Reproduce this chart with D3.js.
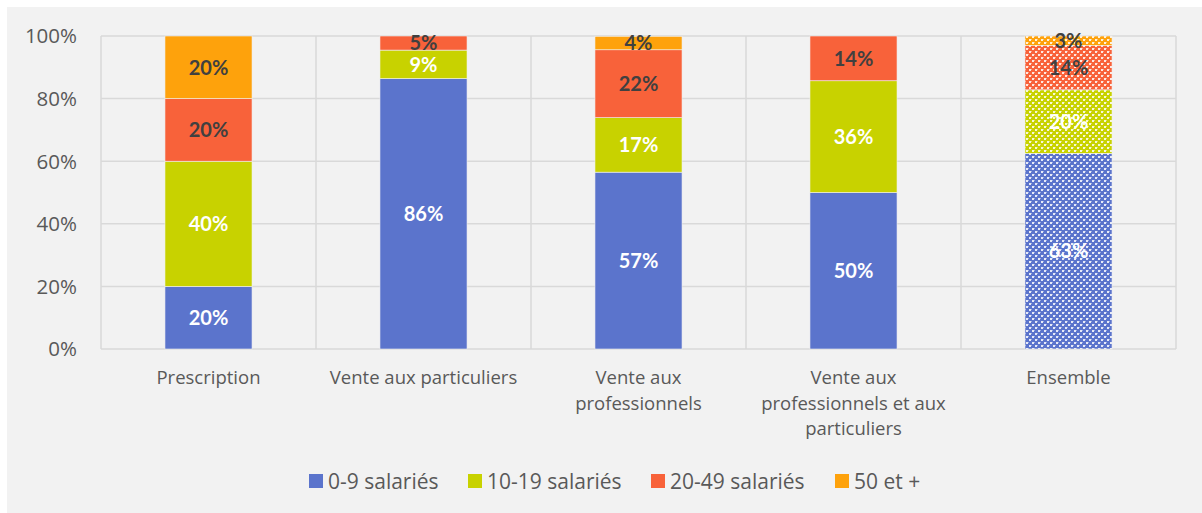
<!DOCTYPE html>
<html>
<head>
<meta charset="utf-8">
<script src="https://cdn.jsdelivr.net/npm/d3@7"></script>
<style>
  html, body { margin: 0; padding: 0; background: #ffffff; }
  svg { display: block; }
</style>
</head>
<body>
<svg id="chart" width="1202" height="513"></svg>
<script>
const categories = ["Prescription", "Vente aux particuliers", "Vente aux professionnels", "Vente aux professionnels et aux particuliers", "Ensemble"];
const categoryLines = [["Prescription"], ["Vente aux particuliers"], ["Vente aux", "professionnels"], ["Vente aux", "professionnels et aux", "particuliers"], ["Ensemble"]];
const seriesNames = ["0-9 salariés", "10-19 salariés", "20-49 salariés", "50 et +"];
const s09 = [20, 86.4, 56.5, 50, 62.5];
const s1019 = [40, 9.1, 17.4, 35.7, 20.3];
const s2049 = [20, 4.5, 21.7, 14.3, 14.1];
const s50 = [20, 0, 4.3, 0, 3.1];
const yTicks = [0, 20, 40, 60, 80, 100];

const colors = ["#5b74cc", "#c8d200", "#f8623a", "#fea20c"];
const labelColors = ["#ffffff", "#ffffff", "#404040", "#404040"];
const series = [s09, s1019, s2049, s50];
const FONT = "'Open Sans', 'Liberation Sans', sans-serif";
const BOLDFONT = "Lato, 'Open Sans', sans-serif";

const svg = d3.select("#chart");
svg.append("rect").attr("x", 7).attr("y", 7).attr("width", 1195).attr("height", 506).attr("fill", "#f2f2f2");

const defs = svg.append("defs");
colors.forEach((c, i) => {
  const p = defs.append("pattern").attr("id", "pat" + i).attr("patternUnits", "userSpaceOnUse")
    .attr("width", 6).attr("height", 6);
  p.append("rect").attr("width", 6).attr("height", 6).attr("fill", c);
  p.append("rect").attr("x", 0).attr("y", 0).attr("width", 2).attr("height", 2).attr("fill", "#ffffff").attr("opacity", 0.85);
  p.append("rect").attr("x", 3).attr("y", 3).attr("width", 2).attr("height", 2).attr("fill", "#ffffff").attr("opacity", 0.85);
  p.append("rect").attr("x", 2).attr("y", 0).attr("width", 1).attr("height", 1).attr("fill", "#ffffff").attr("opacity", 0.4);
  p.append("rect").attr("x", 5).attr("y", 3).attr("width", 1).attr("height", 1).attr("fill", "#ffffff").attr("opacity", 0.4);
});

const x0 = 101, x1 = 1176, yTop = 36, yBot = 349;
const x = d3.scaleBand().domain(categories).range([x0, x1]).paddingInner(0.595).paddingOuter(0.2975);
const y = d3.scaleLinear().domain([0, 100]).range([yBot, yTop]);

// horizontal gridlines
svg.append("g").selectAll("line").data(yTicks).join("line")
  .attr("x1", x0).attr("x2", x1)
  .attr("y1", d => y(d)).attr("y2", d => y(d))
  .attr("stroke", "#d9d9d9").attr("stroke-width", 1.5);

// vertical gridlines (category boundaries)
const step = x.step();
const bounds = d3.range(categories.length + 1).map(i => x0 + i * step);
svg.append("g").selectAll("line").data(bounds).join("line")
  .attr("x1", d => d).attr("x2", d => d)
  .attr("y1", yTop).attr("y2", yBot)
  .attr("stroke", "#d9d9d9").attr("stroke-width", 1.5);

// y axis labels
svg.append("g").selectAll("text").data(yTicks).join("text")
  .attr("x", 77).attr("y", d => y(d)).attr("dy", "0.36em")
  .attr("text-anchor", "end").attr("font-family", FONT).attr("font-size", 20.5)
  .attr("fill", "#595959").text(d => d + "%");

// stacked data
const table = categories.map((c, i) => {
  const o = { cat: c };
  series.forEach((s, k) => o["s" + k] = s[i]);
  return o;
});
const stack = d3.stack().keys(series.map((s, k) => "s" + k))(table);

const barsG = svg.append("g");
stack.forEach((layer, k) => {
  barsG.selectAll(null).data(layer).join("rect")
    .attr("x", d => x(d.data.cat))
    .attr("width", x.bandwidth())
    .attr("y", d => y(d[1]))
    .attr("height", d => y(d[0]) - y(d[1]))
    .attr("fill", (d, i) => d.data.cat === "Ensemble" ? "url(#pat" + k + ")" : colors[k])
    .attr("stroke", d => (d[1] - d[0]) > 0 ? "#f2f2f2" : "none").attr("stroke-width", 0.6);
});

// labels
stack.forEach((layer, k) => {
  barsG.selectAll(null).data(layer.filter(d => d[1] - d[0] > 0)).join("text")
    .attr("x", d => x(d.data.cat) + x.bandwidth() / 2)
    .attr("y", d => (y(d[0]) + y(d[1])) / 2)
    .attr("dy", "0.36em")
    .attr("text-anchor", "middle")
    .attr("font-family", BOLDFONT).attr("font-weight", "bold").attr("font-size", 20)
    .attr("fill", labelColors[k])
    .text(d => Math.round(d[1] - d[0]) + "%");
});

// x category labels
const xl = svg.append("g");
categories.forEach((c, i) => {
  const t = xl.append("text")
    .attr("x", x(c) + x.bandwidth() / 2).attr("y", 384)
    .attr("text-anchor", "middle").attr("font-family", FONT).attr("font-size", 18.5).attr("fill", "#595959");
  categoryLines[i].forEach((line, j) => {
    t.append("tspan").attr("x", x(c) + x.bandwidth() / 2).attr("dy", j === 0 ? 0 : 25.5).text(line);
  });
});

// legend
const legendX = [309, 468, 651, 835];
const lg = svg.append("g");
seriesNames.forEach((n, k) => {
  lg.append("rect").attr("x", legendX[k]).attr("y", 474).attr("width", 14).attr("height", 14).attr("fill", colors[k]);
  lg.append("text").attr("x", legendX[k] + 19).attr("y", 481).attr("dy", "0.36em")
    .attr("font-family", FONT).attr("font-size", 21).attr("fill", "#595959").text(n);
});
</script>
</body>
</html>
